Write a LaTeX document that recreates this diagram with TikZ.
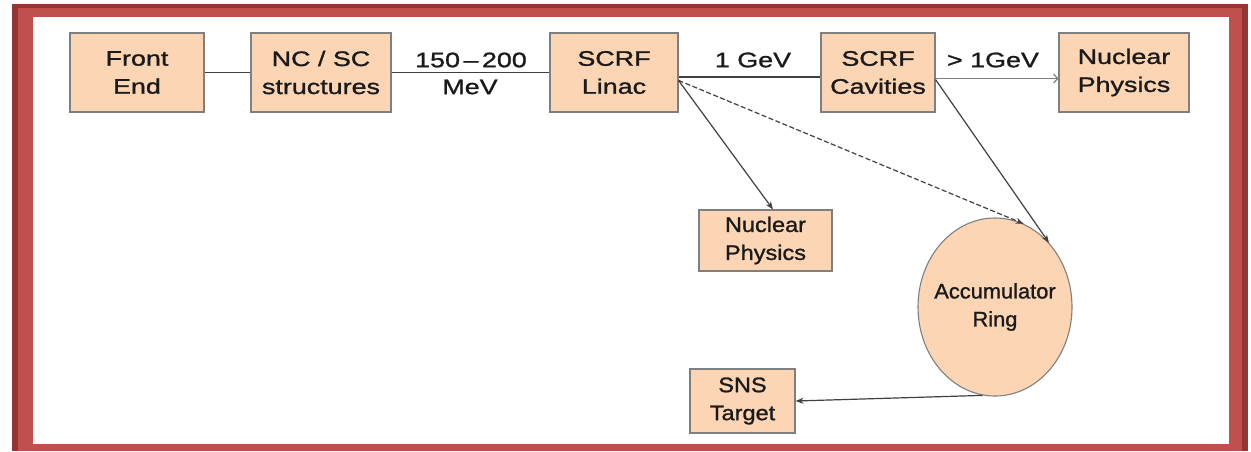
\documentclass[tikz,border=0pt]{standalone}
\usepackage{fontspec}
\setmainfont{Liberation Sans}
\newfontfamily\fwide{Liberation Sans}[FakeStretch=1.28,FakeBold=1.2]
\newfontfamily\fmid{Liberation Sans}[FakeStretch=1.12,FakeBold=1.2]
\newfontfamily\fring{Liberation Sans}[FakeStretch=1.04,FakeBold=1.2]
\usetikzlibrary{arrows.meta,shapes.geometric}
\definecolor{frameRed}{HTML}{C0504D}
\definecolor{frameDark}{HTML}{943634}
\definecolor{peach}{HTML}{FCD5B4}
\definecolor{boxline}{HTML}{7F7F7F}
\definecolor{conn}{HTML}{404040}
\definecolor{txt}{HTML}{1A1A1A}
\tikzset{
  blk/.style={draw=boxline, line width=1.1pt, fill=peach, inner sep=0pt, align=center,
    text=txt, font=\fontsize{21}{28}\selectfont\fwide},
  blkm/.style={blk, font=\fontsize{21}{28}\selectfont\fmid},
  ringnode/.style={ellipse, draw=boxline, line width=1.1pt, fill=peach, inner sep=0pt},
  ringtext/.style={align=center, text=txt, inner sep=0pt, font=\fontsize{21}{28}\selectfont\fring},
  lbl/.style={text=txt, inner sep=0pt, font=\fontsize{21}{28}\selectfont\fwide},
  conline/.style={draw=conn, line width=1.2pt},
  conarrow/.style={conline, -{Stealth[length=8pt,width=6pt]}},
  openarrow/.style={draw=boxline, line width=1.2pt, -{Straight Barb[length=4pt,width=9pt]}}
}
\begin{document}
\begin{tikzpicture}[x=1pt,y=-1pt]
\useasboundingbox (0,0) rectangle (1251,451);
% frame
\fill[white] (0,0) rectangle (1251,451);
\fill[frameDark] (12,4) rectangle (1248,451);
\fill[frameRed] (18,8) rectangle (1242,451);
\fill[white] (33,17) rectangle (1229,444);
% nodes
\node[blk, minimum width=134pt, minimum height=79pt] (fe) at (137,72.5) {Front\\End};
\node[blk, minimum width=140pt, minimum height=79pt] (ncsc) at (321,72.5) {NC / SC\\structures};
\node[blk, minimum width=128pt, minimum height=79pt] (linac) at (614,72.5) {SCRF\\Linac};
\node[blk, minimum width=114pt, minimum height=79pt] (cav) at (878,72.5) {SCRF\\Cavities};
\node[blk, minimum width=130pt, minimum height=79pt] (np1) at (1124,72.5) {Nuclear\\Physics};
\node[blkm, minimum width=133pt, minimum height=61pt] (np2) at (765.5,240.5) {Nuclear\\Physics};
\node[ringnode, minimum width=154pt, minimum height=178pt] (ring) at (995,307) {};
\node[ringtext] (ringlbl) at (ring.center) {Accumulator\\Ring};
\node[blkm, minimum width=105pt, minimum height=64pt] (sns) at (742.5,401) {SNS\\Target};
% labels
\node[lbl] (l1) at (471,60) {150\,–\,200};
\node[lbl] (l2) at (470,87) {MeV};
\node[lbl] (l3) at (753,60) {1 GeV};
\node[lbl] (l4) at (993,60) {> 1GeV};
% connectors
\draw[conline] (fe.east) -- (ncsc.west);
\draw[conline] (ncsc.east) -- (linac.west);
\draw[conline] (linac.-4) -- (linac.-4 -| cav.west);
\draw[openarrow] (cav.-6) -- (cav.-6 -| np1.west);
\draw[conarrow] (linac.-7) -- (np2.north -| 773,0);
\draw[conarrow, dash pattern=on 5pt off 2.5pt] (linac.-7) -- (ring.71);
\draw[conarrow] (cav.-7) -- (ring.50);
\draw[conarrow] (ring.262) -- (sns.east);
\end{tikzpicture}
\end{document}
